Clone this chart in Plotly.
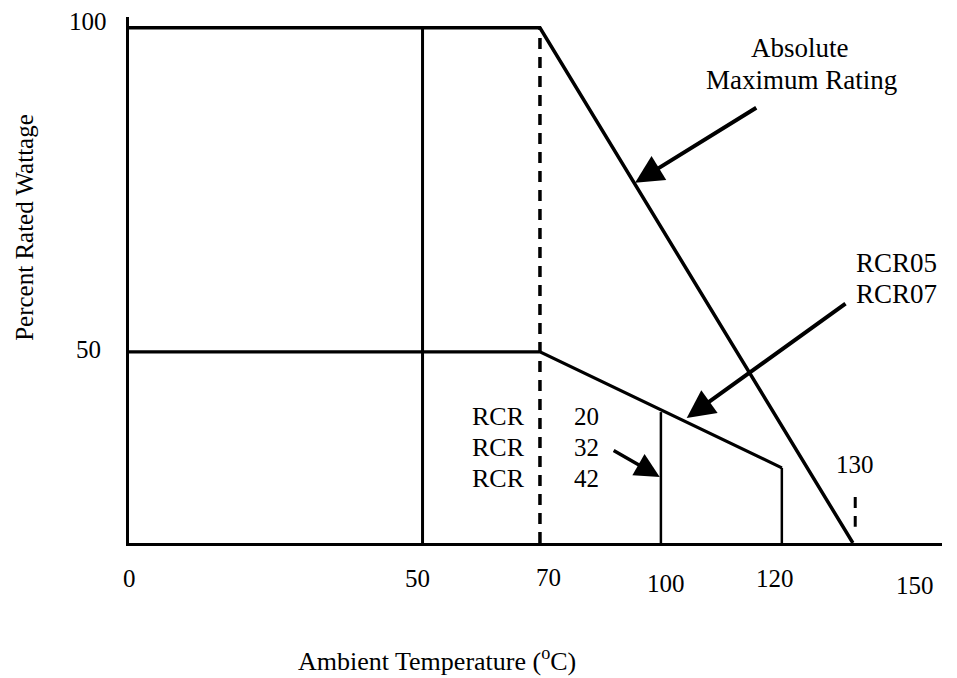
import plotly.graph_objects as go

# ---- data: schematic derating chart ----
# x = ambient temperature position on the drawn scale, y = percent rated wattage
abs_max_temp = [0, 70, 123.3]
abs_max_watt = [100, 100, 20.5]

rcr0507_temp = [0, 70, 111.2, 111.2]
rcr0507_watt = [50, 50, 32.1, 20.5]

rcr20_temp = [90.6, 90.6]
rcr20_watt = [40.7, 20.5]

ref50_temp = [50, 50]
ref50_watt = [20.5, 100]

ref70_temp = [70, 70]
ref70_watt = [20.5, 100]

mark130_temp = [123.7, 123.7]
mark130_watt = [27.6, 23.0]

x_tick_labels = ["0", "50", "70", "100", "120", "150"]
x_tick_at = [0, 49.2, 71.4, 91.5, 110.0, 133.9]
y_tick_labels = ["100", "50"]
y_tick_at = [100, 50]

FONT = "Liberation Serif, Times New Roman, serif"
BLACK = "#000000"

fig = go.Figure()

def add_line(xs, ys, width, dash="solid"):
    fig.add_trace(go.Scatter(x=xs, y=ys, mode="lines",
                             line=dict(color=BLACK, width=width, dash=dash),
                             hoverinfo="skip", showlegend=False))

add_line(abs_max_temp, abs_max_watt, 3.5)
add_line(rcr0507_temp[:3], rcr0507_watt[:3], 3.2)
add_line(rcr0507_temp[2:], rcr0507_watt[2:], 2.5)
add_line(rcr20_temp, rcr20_watt, 2.5)
add_line(ref50_temp, ref50_watt, 3)
add_line(ref70_temp, ref70_watt, 3.5, dash="11px,8px")
add_line(mark130_temp, mark130_watt, 3, dash="11px,8px")

ann = []
# x tick labels (staggered like the drawing)
x_drop = [35, 35, 34, 40, 35, 42]
for t, xv, d in zip(x_tick_labels, x_tick_at, x_drop):
    ann.append(dict(x=xv, xref="x", y=0, yref="paper", yshift=-d, text=t,
                    showarrow=False, xanchor="center", yanchor="middle",
                    font=dict(family=FONT, size=25, color=BLACK)))
# y tick labels
y_shift = [6, 2]
for t, yv, s in zip(y_tick_labels, y_tick_at, y_shift):
    ann.append(dict(x=0, xref="paper", xshift=-41, y=yv, yref="y", yshift=s,
                    text=t, showarrow=False, xanchor="center", yanchor="middle",
                    font=dict(family=FONT, size=25, color=BLACK)))

def label(text, x, y, size=25):
    ann.append(dict(x=x, y=y, xref="x", yref="y", text=text, showarrow=False,
                    xanchor="center", yanchor="middle",
                    font=dict(family=FONT, size=size, color=BLACK)))

label("Absolute", 114.3, 96.9, 27)
label("Maximum Rating", 114.5, 92.0, 27)
label("RCR05", 130.8, 63.7, 27)
label("RCR07", 130.8, 58.9, 27)
for yv, num in zip([40.0, 35.3, 30.4], ["20", "32", "42"]):
    label("RCR", 63.0, yv, 26)
    label(num, 78.0, yv, 25)
label("130", 123.7, 32.6, 25)

def arrow(x0, y0, x1, y1, width, size):
    ann.append(dict(x=x1, y=y1, ax=x0, ay=y0, xref="x", yref="y",
                    axref="x", ayref="y", text="", showarrow=True,
                    arrowhead=2, arrowsize=size, arrowwidth=width,
                    arrowcolor=BLACK, standoff=0))

arrow(107.1, 87.8, 86.2, 76.1, 4, 1.4)
arrow(122.3, 57.6, 95.0, 39.8, 4, 1.4)
arrow(82.3, 34.9, 90.4, 30.7, 3.5, 1.4)

# axis titles placed as in the drawing
ann.append(dict(x=-0.128, y=0.601, xref="paper", yref="paper",
                text="Percent Rated Wattage", textangle=-90, showarrow=False,
                xanchor="center", yanchor="middle",
                font=dict(family=FONT, size=25, color=BLACK)))
ann.append(dict(x=0.379, y=-0.222, xref="paper", yref="paper",
                text="Ambient Temperature (<sup>o</sup>C)", showarrow=False,
                xanchor="center", yanchor="middle",
                font=dict(family=FONT, size=26, color=BLACK)))

# page body has an 8px margin; size the figure so the plot lands in place
fig.update_layout(
    width=949, height=670,
    margin=dict(l=121, r=15, t=9, b=135, pad=0),
    paper_bgcolor="white", plot_bgcolor="white",
    showlegend=False,
    annotations=ann,
    font=dict(family=FONT, size=25, color=BLACK),
    xaxis=dict(range=[0, 138.48], showgrid=False, zeroline=False,
               showticklabels=False, ticks="", showline=True,
               linecolor=BLACK, linewidth=3),
    yaxis=dict(range=[20.5, 101.67], showgrid=False, zeroline=False,
               showticklabels=False, ticks="", showline=True,
               linecolor=BLACK, linewidth=3),
    hovermode=False,
)

fig.write_html("out.html", config={"displayModeBar": False})
